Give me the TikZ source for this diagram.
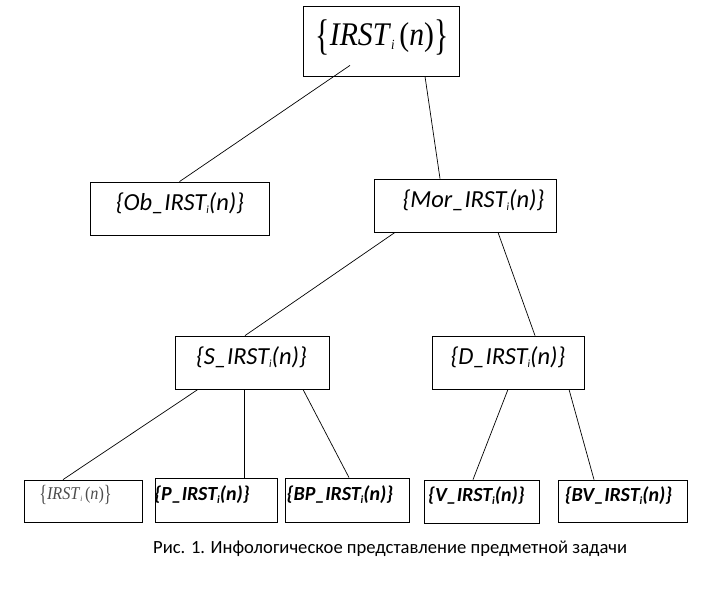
\documentclass[tikz,border=0pt]{standalone}
\usepackage{fontspec}
\setmainfont{Carlito}
\newfontfamily\tnr{Liberation Serif}
\usepackage{graphicx}
\usepackage{tikz}

% subscript i as in the labels
\newcommand{\ind}{\raisebox{-0.3ex}{\fontsize{11}{11}\selectfont\itshape i}}
% tall upright braces of the formula
\newcommand{\tallbr}[1]{\raisebox{-0.12em}{\scalebox{1}[1.3]{#1}}}

\tikzset{
    box/.style={draw, line width=0.8pt, inner sep=0pt},
    lbl/.style={font=\fontsize{24.5}{24.5}\selectfont\itshape, inner sep=0pt},
    small/.style={font=\fontsize{20}{20}\selectfont\bfseries\itshape, inner sep=0pt},
    link/.style={line width=0.7pt},
}

\begin{document}
\begin{tikzpicture}[x=1pt,y=-1pt]
    \useasboundingbox (0,0) rectangle (710,599);

    % boxes
    \node[box, minimum width=156pt, minimum height=70pt] (top) at (381,41) {};
    \node[box, minimum width=179pt, minimum height=53pt] (ob) at (179.5,208.5) {};
    \node[box, minimum width=182pt, minimum height=53pt] (mor) at (465,205.5) {};
    \node[box, minimum width=154pt, minimum height=53pt] (s) at (252,362.5) {};
    \node[box, minimum width=152pt, minimum height=53pt] (d) at (508,362.5) {};
    \node[box, minimum width=118pt, minimum height=42pt] (irst) at (83,501) {};
    \node[box, minimum width=122pt, minimum height=44pt] (p) at (216,500) {};
    \node[box, minimum width=124pt, minimum height=44pt] (bp) at (347,500) {};
    \node[box, minimum width=115pt, minimum height=43pt] (v) at (481.5,501.5) {};
    \node[box, minimum width=129pt, minimum height=42pt] (bv) at (622.5,501) {};

    % texts
    \node[inner sep=0pt, font=\tnr\fontsize{33}{33}\selectfont] (ttop) at (382,37)
        {\scalebox{0.9}[1]{\tallbr{\{}\textit{IRST}\raisebox{-0.3ex}{\fontsize{14}{14}\selectfont\itshape i}\,(\textit{n})\tallbr{\}}}};
    \node[lbl] (tob) at (180,203) {\{Ob\_IRST\ind(n)\}};
    \node[lbl] (tmor) at (473.5,200) {\{Mor\_IRST\ind(n)\}};
    \node[lbl] (ts) at (251.5,357) {\{S\_IRST\ind(n)\}};
    \node[lbl] (td) at (508,357) {\{D\_IRST\ind(n)\}};
    \node[inner sep=0pt, text=black!70, font=\tnr\fontsize{18}{18}\selectfont] (tirst) at (75.5,495)
        {\scalebox{0.9}[1]{\tallbr{\{}\textit{IRST}\raisebox{-0.3ex}{\fontsize{8}{8}\selectfont\itshape i}\,(\textit{n})\tallbr{\}}}};
    \node[small] (tp) at (202,495) {\{P\_IRST\ind(n)\}};
    \node[small] (tbp) at (340,495) {\{BP\_IRST\ind(n)\}};
    \node[small] (tv) at (476.5,496) {\{V\_IRST\ind(n)\}};
    \node[small] (tbv) at (618.5,496) {\{BV\_IRST\ind(n)\}};

    % links
    \draw[link] ([xshift=-31pt,yshift=11pt]top.south) -- (ob.north);
    \draw[link] ([xshift=44pt]top.south) -- ([xshift=-25pt]mor.north);
    \draw[link] ([xshift=-70pt]mor.south) -- ([xshift=-7pt]s.north);
    \draw[link] ([xshift=33pt]mor.south) -- ([xshift=27pt]d.north);
    \draw[link] ([xshift=-54pt]s.south) -- ([xshift=-20pt]irst.north);
    \draw[link] ([xshift=-8pt]s.south) -- ([xshift=28pt]p.north);
    \draw[link] ([xshift=51pt]s.south) -- ([xshift=2pt]bp.north);
    \draw[link] (d.south) -- ([xshift=-8.5pt]v.north);
    \draw[link] ([xshift=61pt]d.south) -- ([xshift=-28.5pt]bv.north);

    % caption
    \node[anchor=west, inner sep=0pt, font=\fontsize{18.6}{18.6}\selectfont] (cap) at (153,549)
        {Рис. 1. Инфологическое представление предметной задачи};
\end{tikzpicture}
\end{document}
